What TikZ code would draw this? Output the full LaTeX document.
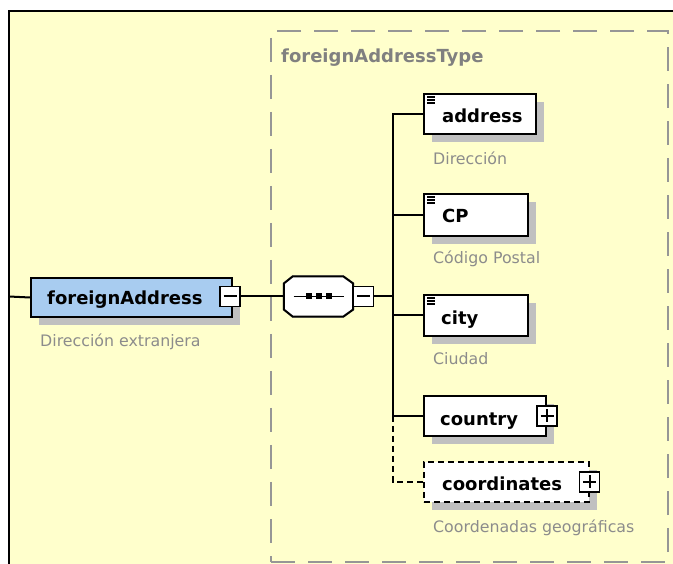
\documentclass[tikz,border=0pt]{standalone}
\usepackage{fontspec}
\setmainfont{DejaVu Sans}
\usetikzlibrary{shadows,calc}
\definecolor{bgyellow}{RGB}{255,255,204}
\definecolor{elemblue}{RGB}{168,204,240}
\definecolor{shadowgray}{RGB}{192,192,192}
\definecolor{descgray}{RGB}{140,140,140}
\definecolor{framegray}{RGB}{150,150,150}
\definecolor{titlegray}{RGB}{128,128,128}
\tikzset{
  elem/.style={rectangle, draw=black, line width=2pt, fill=white, inner sep=0pt, anchor=north west,
    general shadow={shadow xshift=8pt, shadow yshift=-8pt, fill=shadowgray}},
  elemtext/.style={anchor=base west, inner sep=0pt, font=\bfseries\fontsize{18}{20}\selectfont},
  desc/.style={anchor=base west, inner sep=0pt, text=descgray, font=\fontsize{15.8}{18}\selectfont},
  conn/.style={draw=black, line width=2pt},
  optconn/.style={conn, line width=1.6pt, dash pattern=on 6pt off 4pt},
  pmbox/.style={rectangle, draw=black, line width=1.6pt, fill=white, minimum size=20pt, inner sep=0pt},
  minusbox/.style={pmbox, path picture={\draw[black, line width=2pt]
      ([xshift=3.5pt]path picture bounding box.west) -- ([xshift=-3.5pt]path picture bounding box.east);}},
  plusbox/.style={pmbox, path picture={\draw[black, line width=2pt]
      ([xshift=3.5pt]path picture bounding box.west) -- ([xshift=-3.5pt]path picture bounding box.east)
      ([yshift=-3.5pt]path picture bounding box.north) -- ([yshift=3.5pt]path picture bounding box.south);}},
  docicon/.style={black, line width=1.2pt},
}
\begin{document}
\begin{tikzpicture}[x=1pt, y=-1pt]
\useasboundingbox (0,0) rectangle (673,564);
\begin{scope}
  \clip (0,0) rectangle (673,564);
  \draw[fill=bgyellow, draw=black, line width=1.2pt] (9,11) rectangle (700,600);
\end{scope}
% type box
\node[rectangle, draw=framegray, line width=2pt, dash pattern=on 24pt off 13pt, minimum width=397pt,
  minimum height=531pt, anchor=north west, inner sep=0pt] (typebox) at (270,30) {};
\node[anchor=base west, inner sep=0pt, text=titlegray, font=\bfseries\fontsize{18}{20}\selectfont]
  (title) at (281,63) {foreignAddressType};

% foreignAddress
\coordinate (leftin) at (9,296.5);
\node[elem, fill=elemblue, minimum width=201pt, minimum height=39pt] (fa) at (30,277) {};
\node[elemtext] (fatext) at (47,305) {foreignAddress};
\node[minusbox] (famin) at (230,296.5) {};
\node[desc] (fadesc) at (40,347) {Dirección extranjera};

% sequence compositor (octagon)
\node[rectangle, minimum width=69pt, minimum height=40pt, inner sep=0pt] (seq) at (318.5,296.5) {};
\foreach \sh/\col/\dcol in {8/shadowgray/shadowgray,0/white/black} {
  \filldraw[fill=\col, draw=\dcol, line width=2pt, shift={(\sh,\sh)}]
    ($(seq.west)+(0,-13)$) -- ($(seq.north west)+(9,0)$) -- ($(seq.north east)+(-10,0)$) --
    ($(seq.east)+(0,-13)$) -- ($(seq.east)+(0,13)$) -- ($(seq.south east)+(-10,0)$) --
    ($(seq.south west)+(9,0)$) -- ($(seq.west)+(0,13)$) -- cycle;
}
\draw[black, line width=1.6pt] ($(seq.center)+(-25,0)$) -- ($(seq.center)+(25,0)$);
\foreach \dx in {-10,0,10} {
  \fill[black] ($(seq.center)+(\dx,0)+(-3,-3)$) rectangle ($(seq.center)+(\dx,0)+(3,3)$);
}
\node[minusbox] (seqmin) at (363.5,296.5) {};
\coordinate (trunk) at (393,296.5);

% children
\node[elem, minimum width=112pt, minimum height=40pt] (address) at (423,93) {};
\node[elemtext] (addresst) at (442,123) {address};
\node[desc] (addressd) at (433,165) {Dirección};

\node[elem, minimum width=104pt, minimum height=42pt] (cp) at (423,193) {};
\node[elemtext] (cpt) at (442,223) {CP};
\node[desc] (cpd) at (433,264) {Código Postal};

\node[elem, minimum width=104pt, minimum height=41pt] (city) at (423,294) {};
\node[elemtext] (cityt) at (441,325) {city};
\node[desc] (cityd) at (433,365) {Ciudad};

\node[elem, minimum width=122pt, minimum height=40pt] (country) at (423,395) {};
\node[elemtext] (countryt) at (440,425) {country};
\node[plusbox] (countryp) at (country.east) {};

\node[elem, line width=1.6pt, dash pattern=on 6pt off 4pt, minimum width=165pt, minimum height=40pt] (coord) at (423,461) {};
\node[elemtext] (coordt) at (442,490) {coordinates};
\node[plusbox] (coordp) at (coord.east) {};
\node[desc] (coordd) at (433,532) {Coordenadas geográficas};

% doc icons
\foreach \n in {address,cp,city} {
  \foreach \dy in {4,7,10} {
    \draw[docicon] ($(\n.north west)+(4,\dy)$) -- ($(\n.north west)+(12,\dy)$);
  }
}

% connectors
\draw[conn] (leftin) -- (fa.west);
\draw[conn] (famin.east) -- (seq.west);
\draw[conn] (seqmin.east) -- (trunk);
\draw[conn] (address.west) -- (address.west -| trunk) -- (country.west -| trunk) -- (country.west);
\draw[conn] (cp.west -| trunk) -- (cp.west);
\draw[conn] (city.west -| trunk) -- (city.west);
\draw[optconn] (country.west -| trunk) -- (coord.west -| trunk) -- (coord.west);
\end{tikzpicture}
\end{document}
